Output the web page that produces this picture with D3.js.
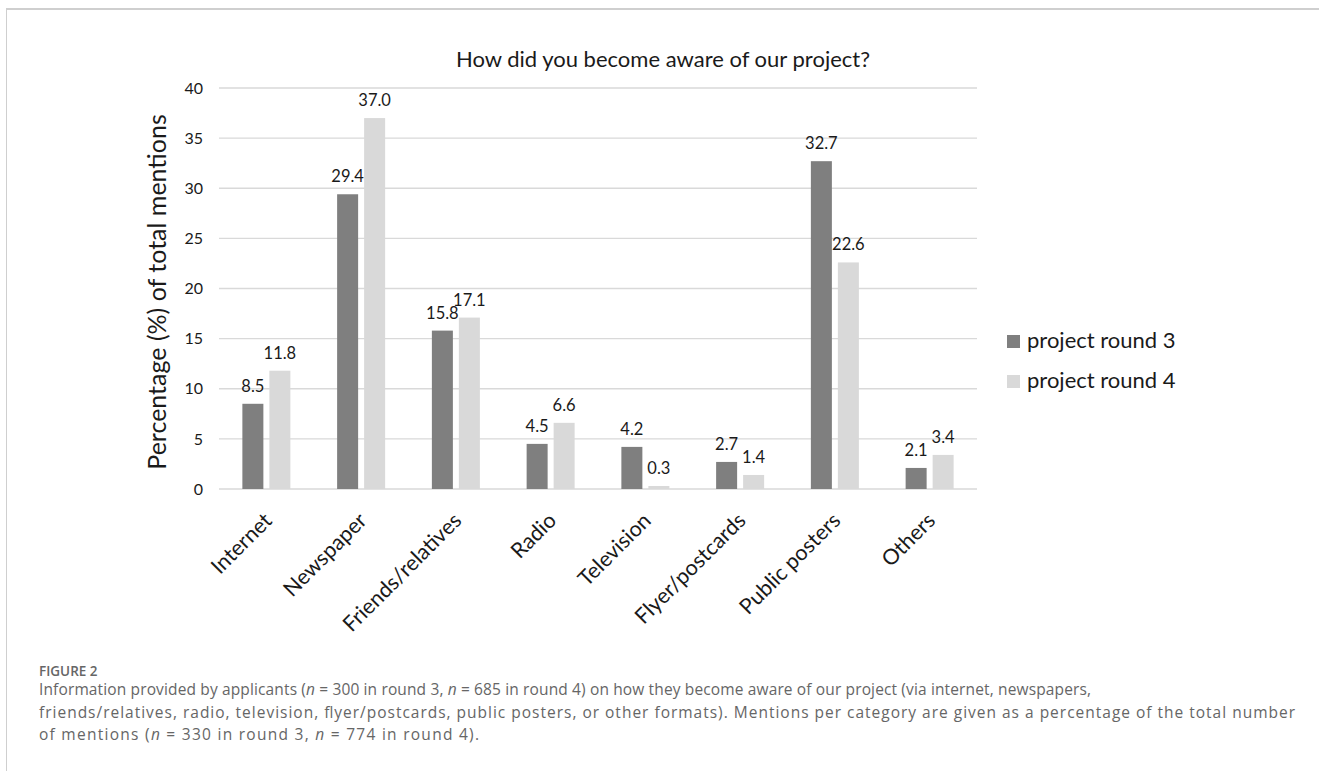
<!DOCTYPE html>
<html lang="en">
<head>
  <meta charset="UTF-8">
  <title>How did you become aware of our project?</title>
  <style>
    body { margin: 0; background: #fff; }
    svg { display: block; }
    .chart text { font-family: Lato, "Liberation Sans", sans-serif; fill: #1a1a1a; }
    .grid line { stroke: #d9d9d9; stroke-width: 1.3px; }
    .caption text { font-family: "Open Sans", "Noto Sans", sans-serif; fill: #666; }
  </style>
</head>
<body>
  <svg width="1319" height="771"></svg>

  <script src="https://d3js.org/d3.v7.min.js"></script>
  <script>
    const categories = ["Internet", "Newspaper", "Friends/relatives", "Radio",
                        "Television", "Flyer/postcards", "Public posters", "Others"];
    const seriesNames = ["project round 3", "project round 4"];
    const round3 = [8.5, 29.4, 15.8, 4.5, 4.2, 2.7, 32.7, 2.1];
    const round4 = [11.8, 37.0, 17.1, 6.6, 0.3, 1.4, 22.6, 3.4];
    const yTicks = [0, 5, 10, 15, 20, 25, 30, 35, 40];
    const colors = ["#7f7f7f", "#d9d9d9"];

    const captionLines = [
      ["Information provided by applicants (", ["n"], " = 300 in round 3, ", ["n"], " = 685 in round 4) on how they become aware of our project (via internet, newspapers,"],
      ["friends/relatives, radio, television, flyer/postcards, public posters, or other formats). Mentions per category are given as a percentage of the total number"],
      ["of mentions (", ["n"], " = 330 in round 3, ", ["n"], " = 774 in round 4)."]
    ];
    const captionWidths = [1052, 1256, 440];

    const svg = d3.select("svg");

    // frame (top rule + left rule)
    svg.append("rect").attr("x", 6).attr("y", 8).attr("width", 1313).attr("height", 2).attr("fill", "#cfcfcf");
    svg.append("rect").attr("x", 6).attr("y", 8).attr("width", 1).attr("height", 763).attr("fill", "#cfcfcf");

    const chart = svg.append("g").attr("class", "chart");

    const x = d3.scaleBand().domain(categories).range([219, 977]);
    const y = d3.scaleLinear().domain([0, 40]).range([489, 88]);
    const barW = 21, gap = 6;
    const inner = d3.scaleOrdinal().domain([0, 1])
      .range([(x.bandwidth() - 2 * barW - gap) / 2, (x.bandwidth() - 2 * barW - gap) / 2 + barW + gap]);

    // gridlines
    chart.append("g").attr("class", "grid")
      .selectAll("line").data(yTicks).join("line")
      .attr("x1", x.range()[0]).attr("x2", x.range()[1])
      .attr("y1", d => y(d)).attr("y2", d => y(d));

    // y axis labels
    const yAxis = d3.axisLeft(y).tickValues(yTicks).tickSize(0).tickPadding(16);
    const yg = chart.append("g").attr("transform", `translate(${x.range()[0]},0)`).call(yAxis);
    yg.select(".domain").remove();
    yg.selectAll("text").style("font-size", "16px").style("font-family", "Lato, sans-serif").attr("fill", "#1a1a1a");

    // bars
    const series = [round3, round4];
    series.forEach((vals, si) => {
      const g = chart.append("g");
      g.selectAll("rect").data(vals).join("rect")
        .attr("x", (d, i) => x(categories[i]) + inner(si))
        .attr("y", d => y(d))
        .attr("width", barW)
        .attr("height", d => y(0) - y(d))
        .attr("fill", colors[si]);
      g.selectAll("text").data(vals).join("text")
        .attr("x", (d, i) => x(categories[i]) + inner(si) + barW / 2)
        .attr("y", d => y(d) - 12)
        .attr("text-anchor", "middle")
        .style("font-size", "16.5px")
        .text(d => d.toFixed(1));
    });

    // category labels
    chart.append("g").selectAll("text").data(categories).join("text")
      .attr("transform", d => `translate(${x(d) + x.bandwidth() / 2 - 4},511) rotate(-45)`)
      .attr("text-anchor", "end")
      .attr("dy", "0.72em")
      .style("font-size", "21.5px")
      .text(d => d);

    // title
    chart.append("text")
      .attr("x", 663).attr("y", 67)
      .attr("text-anchor", "middle")
      .style("font-size", "22px")
      .text("How did you become aware of our project?");

    // y axis title
    chart.append("text")
      .attr("transform", "translate(166,292) rotate(-90)")
      .attr("text-anchor", "middle")
      .style("font-size", "25px")
      .text("Percentage (%) of total mentions");

    // legend
    const legend = chart.append("g").selectAll("g").data(seriesNames).join("g")
      .attr("transform", (d, i) => `translate(1007,${335 + i * 40})`);
    legend.append("rect").attr("width", 13).attr("height", 13).attr("fill", (d, i) => colors[i]);
    legend.append("text").attr("x", 20).attr("y", 13).style("font-size", "22px").text(d => d);

    // caption
    const cap = svg.append("g").attr("class", "caption");
    cap.append("text").attr("x", 39).attr("y", 676)
      .style("font-size", "13.5px").style("font-weight", "600").text("FIGURE 2");
    captionLines.forEach((parts, li) => {
      const t = cap.append("text").attr("x", 39).attr("y", 695 + li * 22.5)
        .style("font-size", "15.5px")
        .attr("textLength", captionWidths[li]).attr("lengthAdjust", "spacing");
      parts.forEach(p => {
        if (Array.isArray(p)) t.append("tspan").style("font-style", "italic").text(p[0]);
        else t.append("tspan").text(p);
      });
    });
  </script>
</body>
</html>
